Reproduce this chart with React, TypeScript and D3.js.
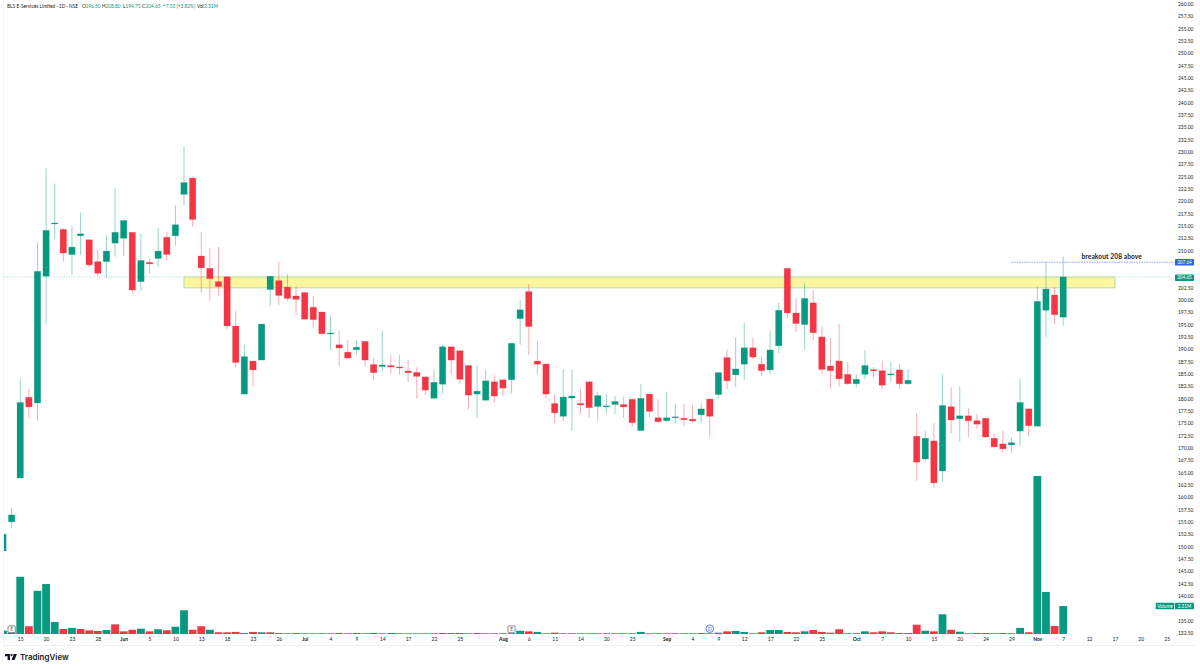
import React, { useEffect, useRef } from "react";
import * as d3 from "d3";

// daily bars. index 0 is the partly hidden bar at the left edge
const opens = [
  149.1, 155.0, 163.9, 180.25, 179.1, 204.8, 215.4, 214.3, 209.2, 213,
  212.2, 207.75, 207.75, 211.5, 212.5, 213.7, 203.7, 207.6, 208.4, 212.7,
  213, 221.4, 224.7, 208.9, 206.4, 203.7, 204.7, 194.7, 180.9, 187.6,
  187.8, 202.1, 203.9, 202.6, 200.8, 201.5, 198.5, 197.55, 193.2, 190.9,
  189.4, 189.9, 191.6, 186.9, 186.5, 186.7, 186.4, 185.6, 185.3, 184.4,
  180.05, 182.9, 190.5, 189.7, 186.7, 180.9, 179.65, 183.4, 183.8, 183.8,
  196.2, 201.7, 187.6, 187, 179, 176.4, 180.1, 179, 183.4, 178.4,
  178.4, 178.8, 178.8, 179.85, 173.5, 180.9, 176.1, 175.5, 176.15, 176,
  175.8, 176.7, 179.9, 180.8, 188.3, 184.8, 186.95, 190.3, 186.95, 185.8,
  190.7, 206.4, 197.35, 195, 199.4, 192.5, 186.6, 187.6, 184.9, 183,
  184.9, 185.85, 185.65, 184.9, 185.8, 183, 172.35, 167.75, 171.4, 165.3,
  178.35, 175.9, 176.5, 175.5, 176, 171.95, 170.8, 170.6, 173.4, 177.9,
  174.4, 197.9, 201, 196.5,
];
const closes = [
  152.5, 156.4, 179.2, 178.3, 205.8, 214.1, 215.6, 209.5, 210.7, 213.4,
  207.1, 205.4, 209.9, 213.7, 216.1, 202, 208, 207.3, 209.9, 209.2,
  215.25, 223.8, 216.3, 206.5, 204.3, 202.7, 194.7, 187.3, 188.5, 185.8,
  195.1, 204.8, 200.9, 200.3, 200.1, 196.1, 196, 193.15, 193.3, 190.25,
  188.2, 190.4, 187.8, 185.25, 186.8, 186.4, 186.2, 185.25, 184.5, 181.7,
  183.3, 190.5, 187.8, 183.9, 180.7, 181.5, 183.6, 180.5, 182.1, 191.2,
  198, 194.6, 186.95, 180.9, 177.1, 180.3, 180.5, 178.7, 178.15, 180.6,
  178.5, 179.4, 178.3, 175.1, 180.05, 177.4, 175.3, 176.1, 176.3, 175.7,
  175.45, 177.9, 176.4, 185.25, 183.6, 186, 190.3, 188.4, 185.65, 189.85,
  197.9, 197.35, 195.2, 200.3, 193.35, 185.9, 185.65, 184, 183, 183.9,
  186.7, 185.6, 182.7, 185, 183, 183.7, 167.1, 171.95, 162.9, 178.6,
  175.65, 176.5, 175.5, 174.8, 172.2, 170.2, 169.8, 171.05, 179.2, 174.5,
  199.7, 202.2, 197, 204.65,
];
const highs = [
  152.5, 157.8, 184, 181.9, 211.7, 226.7, 223.6, 214.5, 215.05, 217.7,
  212.2, 210.3, 213.2, 222.6, 216.1, 213.7, 213.5, 208.4, 214.6, 213.7,
  219.2, 231.2, 225, 213.7, 210.5, 210.7, 204.7, 197.8, 190.9, 187.6,
  195.1, 204.8, 207.75, 205.2, 202.8, 201.5, 200.8, 197.55, 196.7, 193.8,
  191.8, 191.9, 191.6, 188.2, 193.8, 188.8, 188.8, 187.9, 186.3, 184.4,
  185.9, 190.8, 190.5, 189.7, 186.7, 186.8, 185.9, 184.8, 183.8, 191.2,
  200, 203.2, 191.7, 187, 180.9, 186, 185.8, 181.9, 183.4, 181.4,
  180.9, 180.5, 180.4, 179.85, 182.9, 180.9, 179.85, 181.4, 179, 178.8,
  178.7, 179, 179.9, 185.25, 190, 192.4, 195.3, 192.3, 188.4, 193.8,
  199.4, 206.5, 200.3, 203.4, 201.9, 194.5, 192.3, 195.1, 187.4, 184.9,
  189.85, 186.4, 187.7, 187.4, 187, 186, 177, 173.4, 175, 184.9,
  182.3, 182.5, 178, 176.9, 176, 172.8, 173.5, 172, 184, 178,
  202.8, 207.6, 202.6, 208.8,
];
const lows = [
  149.1, 153.8, 163.9, 176.1, 175.5, 195.1, 212.3, 207.75, 205.05, 209.1,
  206.7, 204.85, 204.5, 208.8, 208.9, 201.3, 201.8, 205.4, 206.7, 207.9,
  211, 219.1, 214.85, 201.5, 199.8, 200.9, 194, 186.3, 180.9, 182.5,
  187.8, 198.8, 199, 199.8, 196.8, 196.1, 194.4, 192.8, 189.85, 186.5,
  188.2, 188.9, 186.5, 183.8, 185.5, 185, 184.8, 183.4, 180, 180.7,
  180.05, 181, 185, 183, 177.8, 176, 179.65, 179.2, 180.5, 181,
  190.9, 188.8, 184.9, 180.05, 175, 175.5, 173.4, 176.9, 176.1, 175.5,
  176.9, 176.9, 176.1, 174.3, 173.5, 176.2, 175.1, 175.2, 175, 174.4,
  175, 175, 172.1, 180, 181.9, 182.3, 183.8, 188, 184.6, 185,
  189.2, 196.3, 193.5, 189.8, 191.9, 185, 182, 182.5, 182.8, 182.2,
  183.9, 184.2, 182, 183.5, 182, 182.8, 163.35, 167.1, 161.9, 163.1,
  173, 171.3, 172.15, 173.8, 172, 170.1, 169, 169, 170.4, 172.3,
  174.4, 192.5, 195.1, 194.75,
];

// volume in millions
const volumes = [
  0.27, 0.25, 4.73, 0.64, 3.57, 4.13, 0.99, 0.41, 0.5, 0.41,
  0.3, 0.25, 0.33, 0.8, 0.22, 0.35, 0.44, 0.22, 0.39, 0.31,
  0.6, 1.96, 0.35, 0.64, 0.35, 0.14, 0.14, 0.17, 0.08, 0.17,
  0.14, 0.14, 0.08, 0.06, 0.08, 0.06, 0.06, 0.06, 0.06, 0.08,
  0.06, 0.08, 0.06, 0.08, 0.06, 0.08, 0.06, 0.06, 0.06, 0.06,
  0.06, 0.08, 0.08, 0.08, 0.06, 0.08, 0.06, 0.06, 0.06, 0.06,
  0.27, 0.22, 0.17, 0.06, 0.11, 0.06, 0.06, 0.06, 0.06, 0.06,
  0.06, 0.06, 0.06, 0.06, 0.17, 0.06, 0.06, 0.06, 0.06, 0.06,
  0.06, 0.08, 0.06, 0.11, 0.22, 0.25, 0.17, 0.06, 0.14, 0.33,
  0.33, 0.17, 0.14, 0.22, 0.33, 0.17, 0.11, 0.39, 0.06, 0.06,
  0.22, 0.14, 0.22, 0.14, 0.08, 0.08, 0.77, 0.27, 0.22, 1.63,
  0.35, 0.19, 0.06, 0.08, 0.08, 0.06, 0.08, 0.06, 0.5, 0.14,
  13.06, 3.47, 0.66, 2.31,
];
// u / d per bar, the volume colours do not always follow the candle
const volumeDirs = [
  "u", "u", "u", "d", "u", "u", "u", "d", "u", "d",
  "d", "d", "u", "d", "d", "d", "u", "d", "u", "d",
  "u", "u", "d", "d", "u", "d", "d", "d", "u", "d",
  "u", "d", "d", "d", "d", "d", "d", "d", "u", "d",
  "u", "d", "d", "d", "u", "d", "d", "d", "d", "d",
  "u", "u", "d", "d", "d", "u", "u", "u", "d", "u",
  "u", "d", "u", "d", "d", "u", "u", "d", "d", "d",
  "u", "d", "d", "d", "u", "d", "d", "u", "u", "d",
  "d", "d", "d", "u", "d", "u", "u", "d", "d", "u",
  "u", "d", "d", "u", "d", "d", "d", "d", "d", "u",
  "u", "d", "d", "d", "d", "u", "d", "u", "d", "u",
  "d", "u", "d", "d", "d", "d", "d", "d", "u", "d",
  "u", "u", "d", "u",
];

const dateBars = [2, 5, 8, 11, 14, 17, 20, 23, 26, 29, 32, 35, 38, 41, 44, 47, 50, 53, 58, 61, 64, 67, 70, 73, 77, 80, 83, 86, 89, 92, 95, 99, 102, 105, 108, 111, 114, 117, 120, 123, 126, 129, 132, 135];
const dateLabels = ["15", "20", "23", "28", "Jun", "5", "10", "13", "18", "23", "26", "Jul", "4", "9", "14", "17", "22", "25", "Aug", "6", "11", "14", "20", "25", "Sep", "4", "9", "12", "17", "22", "25", "Oct", "7", "10", "15", "20", "24", "29", "Nov", "7", "12", "17", "20", "25"];
const monthLabels = ["Jun", "Jul", "Aug", "Sep", "Oct", "Nov"];

// 207.50, 205.00 and 137.50 sit under the tags on the axis, so they do not show
const hiddenTicks = [207.5, 205, 137.5];
const priceTicks = d3.range(132.5, 260.01, 2.5).filter((t) => !hiddenTicks.includes(t));

const zone = { top: 204.65, bottom: 202.45, startBar: 21, endBar: 129 };
const breakoutPrice = 207.64;
const breakoutStartBar = 117;
const lastPrice = 204.65;
const earningsBars = [1, 59];
const dividendBar = 82;

const UP = "#089981";
const DOWN = "#f23645";
const INK = "#131722";
const FONT = "Lato, 'Open Sans', sans-serif";

function App() {
  const ref = useRef<SVGSVGElement>(null);

  useEffect(() => {
    const width = 1200,
      height = 669;
    const svg = d3.select(ref.current);
    svg.selectAll("*").remove();

    const x = d3.scaleLinear().domain([0, 123]).range([3, 1063.2]);
    const y = d3.scaleLinear().domain([260, 132.5]).range([4, 632.8]);
    const yVol = d3.scaleLinear().domain([0, 13.06]).range([634, 476]);

    svg.append("rect").attr("width", width).attr("height", height).attr("fill", "#fff");

    // pane edges
    svg.append("line").attr("x1", 3.5).attr("x2", 3.5).attr("y1", 0).attr("y2", 645).attr("stroke", "#f0f3fa");
    svg.append("line").attr("x1", 3).attr("x2", 1195).attr("y1", 645.5).attr("y2", 645.5).attr("stroke", "#eef0f4");

    svg
      .append("clipPath")
      .attr("id", "pane")
      .append("rect")
      .attr("x", 4)
      .attr("y", 0)
      .attr("width", 1168)
      .attr("height", 645);

    const pane = svg.append("g").attr("clip-path", "url(#pane)");
    const bars = d3.range(opens.length);

    // last price line
    pane
      .append("line")
      .attr("x1", 4)
      .attr("x2", 1172)
      .attr("y1", y(lastPrice))
      .attr("y2", y(lastPrice))
      .attr("stroke", UP)
      .attr("stroke-opacity", 0.55)
      .attr("stroke-width", 0.7)
      .attr("stroke-dasharray", "1 1.5");

    // volume
    pane
      .selectAll("rect.vol")
      .data(bars)
      .enter()
      .append("rect")
      .attr("class", "vol")
      .attr("x", (i) => x(i) - 3.9)
      .attr("width", 7.8)
      .attr("y", (i) => yVol(volumes[i]))
      .attr("height", (i) => yVol(0) - yVol(volumes[i]))
      .attr("fill", (i) => (volumeDirs[i] === "u" ? UP : DOWN));

    // support zone
    const zoneTop = y(zone.top);
    pane
      .append("rect")
      .attr("x", x(zone.startBar))
      .attr("width", x(zone.endBar) - x(zone.startBar))
      .attr("y", zoneTop)
      .attr("height", y(zone.bottom) - zoneTop)
      .attr("fill", "#fff59d")
      .attr("fill-opacity", 0.95)
      .attr("stroke", "#b7dca0")
      .attr("stroke-width", 1);

    // wicks
    pane
      .selectAll("line.wick")
      .data(bars)
      .enter()
      .append("line")
      .attr("class", "wick")
      .attr("x1", (i) => x(i))
      .attr("x2", (i) => x(i))
      .attr("y1", (i) => y(highs[i]))
      .attr("y2", (i) => y(lows[i]))
      .attr("stroke", (i) => (closes[i] >= opens[i] ? UP : DOWN))
      .attr("stroke-opacity", 0.42)
      .attr("stroke-width", 1);

    // bodies
    pane
      .selectAll("rect.body")
      .data(bars)
      .enter()
      .append("rect")
      .attr("class", "body")
      .attr("x", (i) => x(i) - 3.2)
      .attr("width", 6.4)
      .attr("y", (i) => y(Math.max(opens[i], closes[i])))
      .attr("height", (i) => Math.max(1, Math.abs(y(opens[i]) - y(closes[i]))))
      .attr("fill", (i) => (closes[i] >= opens[i] ? UP : DOWN))
      .attr("stroke", (i) => (closes[i] >= opens[i] ? UP : DOWN))
      .attr("stroke-opacity", 0.25)
      .attr("stroke-width", 0.8);

    // breakout line and note
    svg
      .append("line")
      .attr("x1", x(breakoutStartBar))
      .attr("x2", 1174)
      .attr("y1", y(breakoutPrice))
      .attr("y2", y(breakoutPrice))
      .attr("stroke", "#2962ff")
      .attr("stroke-opacity", 0.8)
      .attr("stroke-width", 0.7)
      .attr("stroke-dasharray", "1.5 1");

    svg
      .append("text")
      .attr("x", 1081.5)
      .attr("y", 258.8)
      .attr("font-family", FONT)
      .attr("font-size", 6.6)
      .attr("font-weight", 700)
      .attr("letter-spacing", 0.1)
      .attr("fill", INK)
      .text("breakout 208 above");

    // earnings flags
    earningsBars.forEach((b) => {
      const g = svg.append("g").attr("transform", "translate(" + x(b) + ",629.3)");
      g.append("rect")
        .attr("x", -3.6)
        .attr("y", -3.4)
        .attr("width", 7.2)
        .attr("height", 6.8)
        .attr("rx", 0.8)
        .attr("fill", "#fff")
        .attr("stroke", "#6a6d78")
        .attr("stroke-width", 0.8);
      g.append("text")
        .attr("text-anchor", "middle")
        .attr("y", 1.8)
        .attr("font-family", FONT)
        .attr("font-size", 4.8)
        .attr("fill", "#50535e")
        .text("E");
    });

    // dividend marker
    const div = svg.append("g").attr("transform", "translate(" + x(dividendBar) + ",628.7)");
    div.append("circle").attr("r", 3.8).attr("fill", "#fff").attr("stroke", "#2962ff").attr("stroke-width", 0.8);
    div
      .append("text")
      .attr("text-anchor", "middle")
      .attr("y", 1.8)
      .attr("font-family", FONT)
      .attr("font-size", 4.8)
      .attr("fill", "#2962ff")
      .text("D");

    // price axis
    const priceAxis = d3
      .axisRight(y)
      .tickValues(priceTicks)
      .tickSize(0)
      .tickPadding(0)
      .tickFormat((d) => d3.format(".2f")(d as number));
    const gy = svg.append("g").attr("transform", "translate(1178,0)").call(priceAxis as any);
    gy.select(".domain").remove();
    gy.selectAll("text").attr("font-family", FONT).attr("font-size", 4.9).attr("fill", INK);

    // time axis
    const labelOf = d3.scaleOrdinal<number, string>().domain(dateBars).range(dateLabels);
    const timeAxis = d3
      .axisBottom(x)
      .tickValues(dateBars)
      .tickSize(0)
      .tickPadding(0)
      .tickFormat((d) => labelOf(d as number));
    const gx = svg.append("g").attr("transform", "translate(0,637.5)").call(timeAxis as any);
    gx.select(".domain").remove();
    gx.selectAll("text")
      .attr("font-family", FONT)
      .attr("font-size", 5)
      .attr("fill", INK)
      .attr("font-weight", (_d: any, k: number) => (monthLabels.includes(dateLabels[k]) ? 700 : 400));

    // price tags on the axis
    const tag = (yc: number, x0: number, w: number, fill: string, label: string) => {
      svg
        .append("rect")
        .attr("x", x0)
        .attr("y", yc - 3.2)
        .attr("width", w)
        .attr("height", 6.4)
        .attr("rx", 0.6)
        .attr("fill", fill);
      svg
        .append("text")
        .attr("x", x0 + w / 2)
        .attr("y", yc + 1.7)
        .attr("text-anchor", "middle")
        .attr("font-family", FONT)
        .attr("font-size", 4.7)
        .attr("fill", "#fff")
        .text(label);
    };
    tag(y(breakoutPrice), 1175, 19, "#2962ff", d3.format(".2f")(breakoutPrice));
    tag(y(lastPrice) + 0.8, 1175, 19, UP, d3.format(".2f")(lastPrice));
    tag(606, 1155.7, 18.6, UP, "Volume");
    tag(606, 1175, 19, UP, "2.31M");

    // header
    const header = svg
      .append("text")
      .attr("y", 7.7)
      .attr("font-family", FONT)
      .attr("font-size", 4.8)
      .attr("fill", INK);
    const headerParts: [number, string, string][] = [
      [7, "BLS E-Services Limited · 1D · NSE", INK],
      [82, "O", INK],
      [85.5, "196.50", UP],
      [102, "H", INK],
      [105.5, "208.80", UP],
      [123, "L", INK],
      [125.5, "194.75", UP],
      [142, "C", INK],
      [145.5, "204.65", UP],
      [163, "+7.53 (+3.82%)", UP],
      [197, "Vol", INK],
      [204, "2.31M", UP],
    ];
    header
      .selectAll("tspan")
      .data(headerParts)
      .enter()
      .append("tspan")
      .attr("x", (d) => d[0])
      .attr("fill", (d) => d[2])
      .text((d) => d[1]);

    // logo
    const logo = svg.append("g").attr("transform", "translate(5,654)").attr("fill", INK);
    logo.append("path").attr("d", "M0 0H5V6H2.6V2.2H0Z");
    logo.append("circle").attr("cx", 6.6).attr("cy", 1.1).attr("r", 1.1);
    logo.append("path").attr("d", "M8.8 0H11.8L9.6 6H6.6Z");
    svg
      .append("text")
      .attr("x", 20)
      .attr("y", 660.3)
      .attr("font-family", "Inter, 'Open Sans', sans-serif")
      .attr("font-size", 8)
      .attr("font-weight", 600)
      .attr("fill", INK)
      .text("TradingView");
  }, []);

  return (
    <svg
      ref={ref}
      width={1200}
      height={669}
      style={{ position: "absolute", top: 0, left: 0, display: "block" }}
    />
  );
}

export default App;
